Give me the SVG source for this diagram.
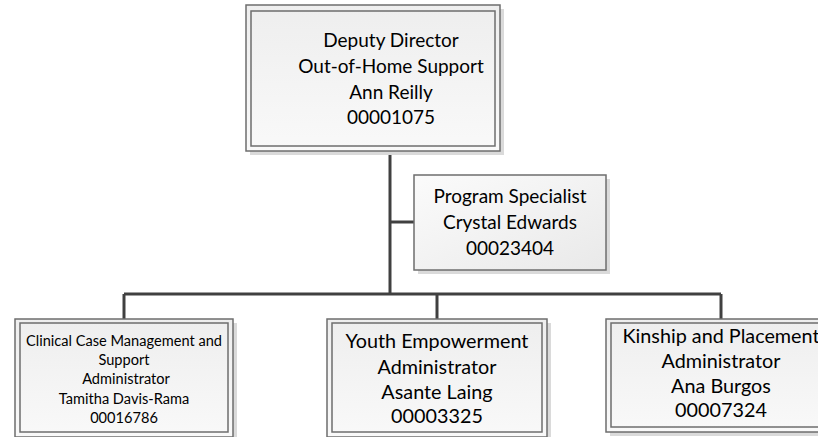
<svg xmlns="http://www.w3.org/2000/svg" width="818" height="437" viewBox="0 0 818 437">
<defs>
<linearGradient id="g" x1="0" y1="0" x2="0" y2="1">
<stop offset="0" stop-color="#eeeeee"/>
<stop offset="1" stop-color="#f9f9f9"/>
</linearGradient>
<linearGradient id="g2" x1="0" y1="0" x2="1" y2="1">
<stop offset="0" stop-color="#fbfbfb"/>
<stop offset="1" stop-color="#e9e9e9"/>
</linearGradient>
</defs>
<style>
.sh{fill:#dadada;}
.out{fill:url(#g);stroke:#6e6e6e;stroke-width:1.5;}
.in{fill:none;stroke:#6e6e6e;stroke-width:1.5;}
.ps{fill:url(#g2);stroke:#6e6e6e;stroke-width:1.5;}
.t{font-family:Lato,"Liberation Sans",sans-serif;font-size:19px;fill:#000;text-anchor:middle;}
.b{font-size:19.8px;}
.s{font-size:14.6px;}
.c{fill:none;stroke:#404040;stroke-width:3;}
</style>
<rect width="818" height="437" fill="#ffffff"/>
<g id="connectors">
<path class="c" d="M390,151 V294"/>
<path class="c" d="M390,222 H414"/>
<path class="c" d="M124,294 H721"/>
<path class="c" d="M124,294 V319"/>
<path class="c" d="M437,294 V319"/>
<path class="c" d="M721,294 V319"/>
</g>
<g id="deputy-director">
<rect class="sh" x="250" y="9" width="254" height="146"/>
<rect class="out" x="246" y="5" width="254" height="146"/>
<rect class="in" x="251" y="11" width="244" height="135"/>
<text class="t" x="391" y="47">Deputy Director</text>
<text class="t" x="391" y="73">Out-of-Home Support</text>
<text class="t" x="391" y="99">Ann Reilly</text>
<text class="t" x="391" y="124">00001075</text>
</g>
<g id="program-specialist">
<rect class="sh" x="418" y="179" width="192" height="95"/>
<rect class="ps" x="414" y="175" width="192" height="95"/>
<text class="t" x="510" y="203">Program Specialist</text>
<text class="t" x="510" y="229">Crystal Edwards</text>
<text class="t" x="510" y="255">00023404</text>
</g>
<g id="clinical-case">
<rect class="sh" x="19" y="323" width="218" height="118"/>
<rect class="out" x="15" y="319" width="218" height="118"/>
<rect class="in" x="20" y="323" width="208" height="109"/>
<text class="t s" x="124" y="346">Clinical Case Management and</text>
<text class="t s" x="124" y="365">Support</text>
<text class="t s" x="126" y="384">Administrator</text>
<text class="t s" x="124" y="404">Tamitha Davis-Rama</text>
<text class="t s" x="124" y="423">00016786</text>
</g>
<g id="youth-empowerment">
<rect class="sh" x="331" y="323" width="220" height="118"/>
<rect class="out" x="327" y="319" width="220" height="118"/>
<rect class="in" x="332" y="323" width="210" height="109"/>
<text class="t b" x="437" y="348">Youth Empowerment</text>
<text class="t b" x="437" y="374">Administrator</text>
<text class="t b" x="437" y="399">Asante Laing</text>
<text class="t b" x="437" y="423">00003325</text>
</g>
<g id="kinship-placement">
<rect class="sh" x="610" y="323" width="230" height="113"/>
<rect class="out" x="606" y="319" width="230" height="113"/>
<rect class="in" x="611" y="323" width="220" height="104"/>
<text class="t b" x="721" y="343">Kinship and Placement</text>
<text class="t b" x="721" y="368">Administrator</text>
<text class="t b" x="721" y="393">Ana Burgos</text>
<text class="t b" x="721" y="417">00007324</text>
</g>
</svg>
